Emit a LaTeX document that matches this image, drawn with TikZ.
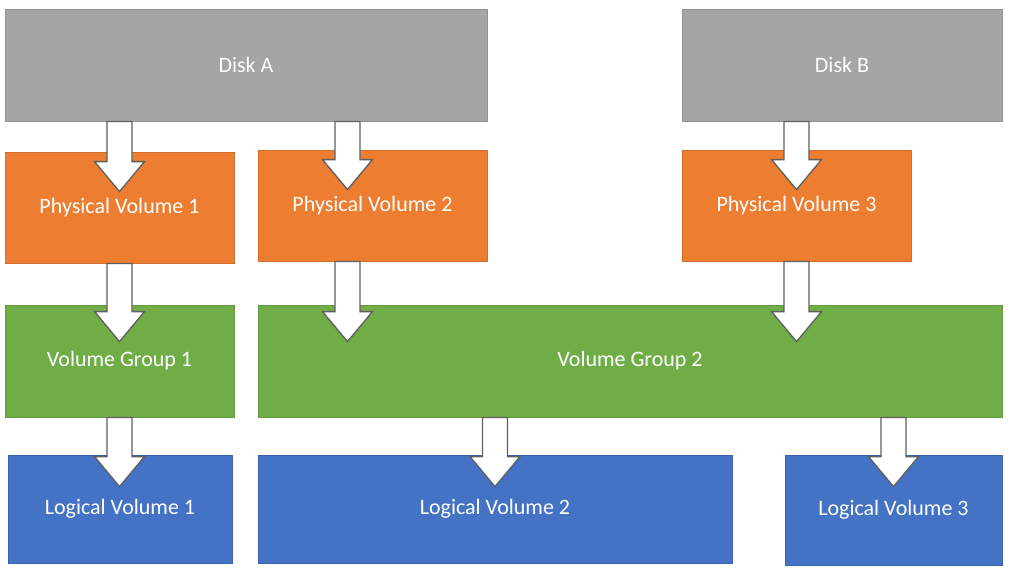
\documentclass[tikz,border=0pt]{standalone}
\usepackage{fontspec}
\setmainfont{Carlito}
\usepackage{xcolor}
\usepackage{tikz}
\usetikzlibrary{positioning}
\usetikzlibrary{calc}

\definecolor{diskgray}{HTML}{A5A5A5}
\definecolor{pvorange}{HTML}{ED7D31}
\definecolor{vggreen}{HTML}{70AD47}
\definecolor{lvblue}{HTML}{4472C4}
\definecolor{arrowline}{HTML}{5F5F5F}

% white block arrow from a start point down to a tip point
\newcommand{\blockdown}[2]{%
  \draw[blockarrow] let \p1=(#1), \p2=(#2) in
    (\x1-12.5pt,\y1) -- (\x1+12.5pt,\y1) -- (\x1+12.5pt,\y2+30pt)
    -- (\x1+25pt,\y2+30pt) -- (\x1,\y2) -- (\x1-25pt,\y2+30pt)
    -- (\x1-12.5pt,\y2+30pt) -- cycle;}

\begin{document}
\begin{tikzpicture}[x=1pt,y=-1pt,
  box/.style={rectangle,inner sep=0pt,text=white,
    font=\fontsize{22}{26}\selectfont,draw=#1!88!black,fill=#1,line width=0.8pt},
  blockarrow/.style={fill=white,draw=arrowline,line width=1.3pt,line join=miter}]
\useasboundingbox (0,0) rectangle (1009,574);

\node[box=diskgray,minimum width=482pt,minimum height=112pt] (diskA)   at (246,65)    {Disk A};
\node[box=diskgray,minimum width=320pt,minimum height=112pt] (diskB)   at (842,65)    {Disk B};
\node[box=pvorange,minimum width=229pt,minimum height=111pt] (pvone)   at (119.5,207.5) {Physical Volume 1};
\node[box=pvorange,minimum width=229pt,minimum height=111pt] (pvtwo)   at (372.5,205.5) {Physical Volume 2};
\node[box=pvorange,minimum width=229pt,minimum height=111pt] (pvthree) at (796.5,205.5) {Physical Volume 3};
\node[box=vggreen,minimum width=229pt,minimum height=112pt]  (vgone)   at (119.5,361) {Volume Group 1};
\node[box=vggreen,minimum width=744pt,minimum height=112pt]  (vgtwo)   at (630,361)   {Volume Group 2};
\node[box=lvblue,minimum width=224pt,minimum height=108pt]   (lvone)   at (120,509)   {Logical Volume 1};
\node[box=lvblue,minimum width=474pt,minimum height=108pt]   (lvtwo)   at (495,509)   {Logical Volume 2};
\node[box=lvblue,minimum width=217pt,minimum height=110pt]   (lvthree) at (893.5,510) {Logical Volume 3};

% disks to physical volumes
\blockdown{pvone.north |- diskA.south}{$(pvone.north)+(0,40)$}
\blockdown{$(pvtwo.north |- diskA.south)+(-25,0)$}{$(pvtwo.north)+(-25,40)$}
\blockdown{pvthree.north |- diskB.south}{$(pvthree.north)+(0,40)$}

% physical volumes to volume groups
\blockdown{pvone.south}{$(vgone.north)+(0,37)$}
\blockdown{$(pvtwo.south)+(-25,0)$}{$(pvtwo.south |- vgtwo.north)+(-25,37)$}
\blockdown{pvthree.south}{$(pvthree.south |- vgtwo.north)+(0,37)$}

% volume groups to logical volumes
\blockdown{vgone.south}{$(lvone.north)+(0,32)$}
\blockdown{lvtwo.north |- vgtwo.south}{$(lvtwo.north)+(0,32)$}
\blockdown{lvthree.north |- vgtwo.south}{$(lvthree.north)+(0,32)$}

\end{tikzpicture}
\end{document}
